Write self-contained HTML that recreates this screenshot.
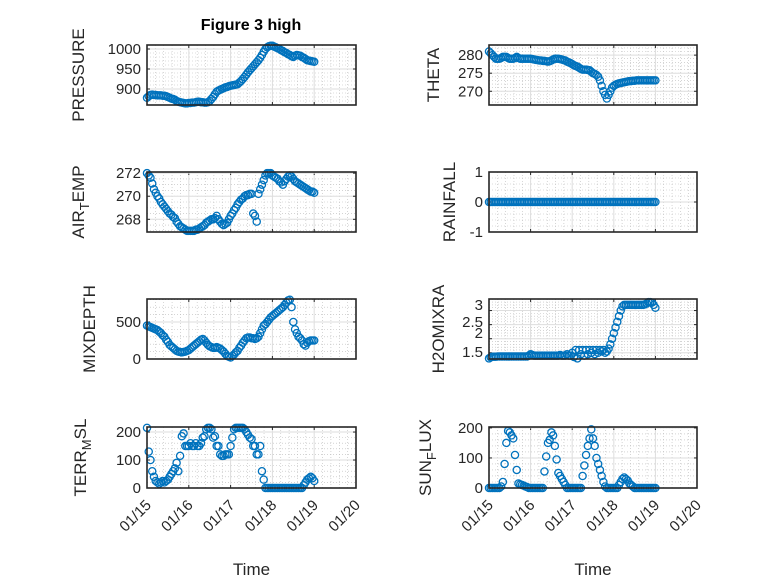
<!DOCTYPE html>
<html><head><meta charset="utf-8"><style>
html,body{margin:0;padding:0;background:#fff;}
svg{display:block;font-family:"Liberation Sans","DejaVu Sans",sans-serif;}
</style></head>
<body>
<svg id="fig" width="778" height="583" viewBox="0 0 778 583">
<rect width="778" height="583" fill="#fff"/>
<text x="251" y="30" text-anchor="middle" font-weight="bold" font-size="16" fill="#000">Figure 3 high</text>
</svg>
<script>
// hourly samples starting 01/15 00:00 (index = hour)
const pressure=[878,882,885,886,885,885,884,884,884,883,883,882,880,878,876,875,873,870,868,867,866,865,864,864,865,865,866,866,867,868,868,867,867,866,866,867,870,875,880,887,893,896,898,900,902,904,905,907,908,909,910,911,912,916,920,925,930,936,942,947,952,957,962,967,972,978,985,993,1000,1004,1007,1008,1008,1006,1004,1002,1000,997,995,992,990,987,985,982,980,983,985,984,983,980,978,975,972,971,970,969,968];
const theta=[281,280.5,280,279.5,279,279,279,279.2,279.5,279.5,279.5,279.2,279,279,279,279.2,279.5,279.2,279,279,279,279,279,279,279,278.9,278.8,278.7,278.6,278.5,278.5,278.4,278.4,278.3,278.2,278.3,278.5,278.8,279,279,279,278.9,278.8,278.6,278.5,278.2,278,277.8,277.5,277.2,277,276.8,276.5,276.2,276,276,276,275.9,275.8,275.4,275,274.8,274.5,274,273,271.5,270,269,268,269,270,271,271.5,271.8,272,272.2,272.3,272.4,272.5,272.6,272.7,272.8,272.8,272.9,272.9,273,273,273,273,273,273,273,273,273,273,273,273];
const airTemp=[272,271.8,271.6,271.1,270.6,270.3,270,269.8,269.5,269.3,269.1,268.9,268.7,268.5,268.4,268.2,268.1,267.8,267.6,267.4,267.3,267.2,267.1,267,267,267,267,267,267.1,267.1,267.2,267.3,267.4,267.5,267.7,267.8,267.9,268,268,268.1,268.3,268,267.8,267.6,267.5,267.6,267.7,268,268.3,268.5,268.8,269,269.3,269.5,269.7,269.8,270,270.1,270.1,270.2,270.2,268.5,268.3,267.8,270.2,270.6,271,271.4,271.8,272,272,272,271.8,271.7,271.6,271.5,271.3,271.2,271,271.3,271.5,271.7,271.8,271.7,271.5,271.3,271.2,271.1,271,270.9,270.8,270.7,270.6,270.5,270.4,270.4,270.3];
const rainfall=[0,0,0,0,0,0,0,0,0,0,0,0,0,0,0,0,0,0,0,0,0,0,0,0,0,0,0,0,0,0,0,0,0,0,0,0,0,0,0,0,0,0,0,0,0,0,0,0,0,0,0,0,0,0,0,0,0,0,0,0,0,0,0,0,0,0,0,0,0,0,0,0,0,0,0,0,0,0,0,0,0,0,0,0,0,0,0,0,0,0,0,0,0,0,0,0,0];
const mixDepth=[450,440,430,420,410,400,390,370,350,320,300,260,230,190,170,150,130,110,100,95,90,95,100,110,120,140,160,180,200,220,240,260,270,250,220,190,170,160,150,150,160,150,140,120,100,70,40,30,20,40,60,90,110,150,180,220,250,280,290,290,280,280,270,280,300,350,400,450,470,500,530,560,580,600,620,640,660,680,700,730,760,790,800,700,500,400,350,300,280,250,200,180,220,240,250,250,250];
const h2o=[1.3,1.34,1.36,1.36,1.36,1.37,1.37,1.37,1.37,1.37,1.37,1.37,1.37,1.37,1.37,1.37,1.37,1.37,1.37,1.37,1.37,1.37,1.37,1.4,1.45,1.42,1.4,1.4,1.4,1.4,1.4,1.4,1.4,1.4,1.4,1.4,1.4,1.4,1.4,1.4,1.4,1.42,1.4,1.4,1.4,1.45,1.4,1.4,1.5,1.35,1.6,1.3,1.6,1.45,1.6,1.4,1.6,1.45,1.6,1.5,1.6,1.45,1.6,1.5,1.6,1.55,1.6,1.5,1.55,1.65,1.8,2.0,2.2,2.4,2.6,2.8,3.0,3.15,3.2,3.2,3.2,3.2,3.2,3.2,3.2,3.2,3.2,3.2,3.2,3.2,3.22,3.25,3.3,3.3,3.28,3.2,3.1];
const terrMsl=[215,130,100,60,40,25,20,15,20,25,20,25,30,40,50,60,70,90,60,115,185,195,150,150,150,160,150,150,160,150,150,160,180,185,210,215,215,210,180,185,150,150,120,115,115,120,120,120,150,180,210,215,215,215,215,215,210,200,190,180,175,150,150,120,120,150,60,30,0,0,0,0,0,0,0,0,0,0,0,0,0,0,0,0,0,0,0,0,0,0,10,20,30,35,40,35,25];
const sunFlux=[0,0,0,0,0,0,0,5,20,80,150,190,185,175,165,110,60,15,12,10,8,5,3,0,0,0,0,0,0,0,0,0,55,105,150,160,185,175,140,95,50,40,30,20,10,0,0,0,0,0,0,0,0,0,40,75,110,140,165,195,165,140,100,80,60,40,20,5,0,0,0,0,0,0,0,10,20,30,35,30,25,15,10,5,0,0,0,0,0,0,0,0,0,0,0,0,0];
const xTickLabels=["01/15","01/16","01/17","01/18","01/19","01/20"];

const NS="http://www.w3.org/2000/svg";
const svg=document.getElementById('fig');
function mk(tag,attrs,parent){const e=document.createElementNS(NS,tag);for(const k in attrs)e.setAttribute(k,attrs[k]);(parent||svg).appendChild(e);return e;}

const cols=[{x0:147,x1:356},{x0:489,x1:697}];
const rows=[[45,105],[172,232],[299,359],[427,488]];

const panels=[
 {name:'pressure',col:0,row:0,data:pressure,ymin:860,ymax:1010,ticks:[900,950,1000],minor:10,label:['PRESSURE'],lx:84},
 {name:'theta',col:1,row:0,data:theta,ymin:266.2,ymax:282.8,ticks:[270,275,280],minor:1,label:['THETA'],lx:439},
 {name:'air-temp',col:0,row:1,data:airTemp,ymin:266.9,ymax:272.1,ticks:[268,270,272],minor:0.5,label:['AIR','T','EMP'],lx:84},
 {name:'rainfall',col:1,row:1,data:rainfall,ymin:-1,ymax:1,ticks:[-1,0,1],minor:0.2,label:['RAINFALL'],lx:455},
 {name:'mixdepth',col:0,row:2,data:mixDepth,ymin:0,ymax:810,ticks:[0,500],minor:100,label:['MIXDEPTH'],lx:95},
 {name:'h2omixra',col:1,row:2,data:h2o,ymin:1.28,ymax:3.41,ticks:[1.5,2,2.5,3],minor:0.1,label:['H2OMIXRA'],lx:444,tlabels:['1.5','2','2.5','3'],tpos:[352,333,322,305]},
 {name:'terr-msl',col:0,row:3,data:terrMsl,ymin:0,ymax:218,ticks:[0,100,200],minor:20,label:['TERR','M','SL'],lx:86,xt:true},
 {name:'sunflux',col:1,row:3,data:sunFlux,ymin:0,ymax:203,ticks:[0,100,200],minor:20,label:['SUN','F','LUX'],lx:431,xt:true}
];

panels.forEach(p=>{
 const c=cols[p.col], r=rows[p.row];
 const xs=h=>c.x0+(c.x1-c.x0)*h/120;
 const ys=v=>r[1]-(r[1]-r[0])*(v-p.ymin)/(p.ymax-p.ymin);
 const g=mk('g',{});
 
 
 for(let h=0;h<=120;h+=4.8){const x=xs(h);const l=mk('line',{x1:x,x2:x,y1:r[0],y2:r[1],stroke:'#bbb','stroke-width':0.6,'stroke-dasharray':'1,2'},g);
  
  }
 const m0=Math.ceil(p.ymin/p.minor)*p.minor;
 for(let v=m0;v<=p.ymax+1e-9;v+=p.minor){const y=ys(v);const l=mk('line',{x1:c.x0,x2:c.x1,y1:y,y2:y,stroke:'#bbb','stroke-width':0.6,'stroke-dasharray':'1,2'},g);
  
  }
 for(let d=0;d<=5;d++){const x=xs(d*24);const l=mk('line',{x1:x,x2:x,y1:r[0],y2:r[1],stroke:'#dedede','stroke-width':1},g);
  
  
  mk('line',{x1:x,x2:x,y1:r[1],y2:r[1]-3,stroke:'#262626','stroke-width':1},g);mk('line',{x1:x,x2:x,y1:r[0],y2:r[0]+3,stroke:'#262626','stroke-width':1},g);}
 p.ticks.forEach((v,i)=>{const y=ys(v);const l=mk('line',{x1:c.x0,x2:c.x1,y1:y,y2:y,stroke:'#dedede','stroke-width':1},g);
  
  
  mk('line',{x1:c.x0,x2:c.x0+3,y1:y,y2:y,stroke:'#262626','stroke-width':1},g);mk('line',{x1:c.x1,x2:c.x1-3,y1:y,y2:y,stroke:'#262626','stroke-width':1},g);
  const ty=p.tpos?p.tpos[i]:y;
  const t=mk('text',{x:c.x0-6,y:ty+5,'text-anchor':'end','font-size':15,fill:'#262626'},g);t.textContent=p.tlabels?p.tlabels[i]:String(v);
  
  });
 p.data.forEach((val,i)=>{const cc=mk('circle',{cx:xs(i),cy:ys(val),r:3.6,fill:'none',stroke:'#0072BD','stroke-width':1.3},g);
  
  });
 const b=mk('rect',{x:c.x0,y:r[0],width:c.x1-c.x0,height:r[1]-r[0],fill:'none',stroke:'#262626','stroke-width':1.6},g);
 
 
 const yc=(r[0]+r[1])/2;
 const t=mk('text',{x:p.lx,y:yc,'text-anchor':'middle','font-size':17,fill:'#262626',transform:`rotate(-90 ${p.lx} ${yc})`},g);
 
 
 if(p.label.length===1){t.textContent=p.label[0];}
 else{const a=mk('tspan',{},t);a.textContent=p.label[0];const s=mk('tspan',{dy:5,'font-size':13},t);s.textContent=p.label[1];const e=mk('tspan',{dy:-5},t);e.textContent=p.label[2];}
 if(p.xt){
  xTickLabels.forEach((lab,d)=>{const x=xs(d*24);const tt=mk('text',{x:x+5,y:r[1]+18,'text-anchor':'end','font-size':15,fill:'#262626',transform:`rotate(-45 ${x+5} ${r[1]+18})`},g);tt.textContent=lab;
   
   });
  const xt=mk('text',{x:(c.x0+c.x1)/2,y:575,'text-anchor':'middle','font-size':17,fill:'#262626'},g);xt.textContent='Time';
  
  
 }
});
</script>
</body></html>
